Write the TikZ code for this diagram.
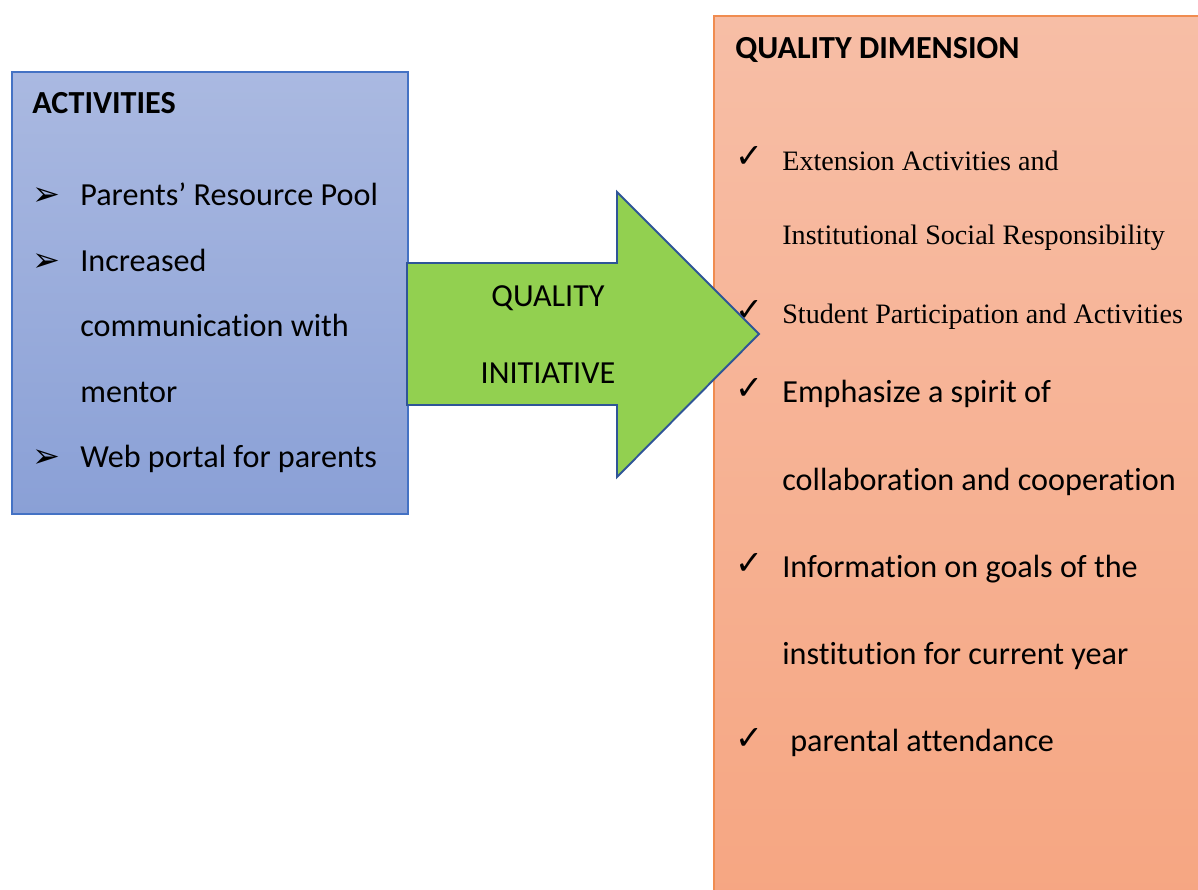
\documentclass[tikz,border=0pt]{standalone}
\usepackage{fontspec}
\setmainfont{Carlito}[Ligatures=NoCommon]
\newfontfamily\itemserif{Liberation Serif}
\newfontfamily\symfont{DejaVu Sans}
\usetikzlibrary{positioning, calc}
\definecolor{actTop}{RGB}{170,185,225}
\definecolor{actBot}{RGB}{138,160,214}
\definecolor{actLine}{RGB}{68,114,196}
\definecolor{qualTop}{RGB}{247,190,166}
\definecolor{qualBot}{RGB}{246,166,130}
\definecolor{qualLine}{RGB}{240,140,80}
\definecolor{arrowGreen}{RGB}{146,208,80}
\definecolor{arrowLine}{RGB}{47,85,151}
\tikzstyle{Head} = [anchor=base west, inner sep=0pt, font=\fontsize{18.3}{22}\selectfont\bfseries]
\tikzstyle{Item} = [anchor=base west, inner sep=0pt, font=\fontsize{18.3}{22}\selectfont]
\tikzstyle{SerifItem} = [anchor=base west, inner sep=0pt, font=\fontsize{16}{19}\itemserif]
\tikzstyle{Bullet} = [anchor=base west, inner sep=0pt, font=\fontsize{19}{22}\symfont]
\tikzstyle{Tick} = [anchor=base west, inner sep=0pt, font=\fontsize{19}{22}\symfont\bfseries]
\tikzstyle{Mid} = [anchor=base, inner sep=0pt, font=\fontsize{18.3}{22}\selectfont]

\begin{document}
\begin{tikzpicture}[x=0.02cm, y=-0.02cm]
    \useasboundingbox (0,0) rectangle (1198,890);
    \clip (0,0) rectangle (1198,890);

    % boxes
    \node [draw=qualLine, line width=0.9pt, top color=qualTop, bottom color=qualBot,
           anchor=north west, inner sep=0pt, minimum width=10cm, minimum height=17.7cm] (qual) at (713,15) {};
    \node [draw=actLine, line width=0.9pt, top color=actTop, bottom color=actBot,
           anchor=north west, inner sep=0pt, minimum width=7.92cm, minimum height=8.84cm] (act) at (11,71) {};
    \node [Tick] (t2) at (735,321) {✓};

    % arrow
    \coordinate (s1) at (407,263);
    \coordinate (h1) at (617,263);
    \coordinate (h2) at (617,192);
    \coordinate (tip) at (759,334);
    \coordinate (h3) at (617,477);
    \coordinate (h4) at (617,405);
    \coordinate (s2) at (407,405);
    \draw[arrowLine, line width=1.1pt, fill=arrowGreen, line join=miter]
        (s1) -- (h1) -- (h2) -- (tip) -- (h3) -- (h4) -- (s2) -- cycle;
    \node [Mid] (q1) at (548,306) {QUALITY};
    \node [Mid] (q2) at (548,383) {INITIATIVE};

    % activities
    \node [Head] (ah) at (32,113) {ACTIVITIES};
    \node [Bullet] (b1) at (32,205) {➢};
    \node [Item] (a1) at (80,205) {Parents’ Resource Pool};
    \node [Bullet] (b2) at (32,271) {➢};
    \node [Item] (a2) at (80,271) {Increased};
    \node [Item] (a3) at (80,336) {communication with};
    \node [Item] (a4) at (80,402) {mentor};
    \node [Bullet] (b3) at (32,467) {➢};
    \node [Item] (a5) at (80,467) {Web portal for parents};

    % quality dimension
    \node [Head] (qh) at (735,58) {QUALITY DIMENSION};
    \node [Tick] (t1) at (735,167) {✓};
    \node [SerifItem] (d1) at (782,170) {Extension Activities and};
    \node [SerifItem] (d2) at (782,244) {Institutional Social Responsibility};
    \node [SerifItem] (d3) at (782,323) {Student Participation and Activities};
    \node [Tick] (t3) at (735,399) {✓};
    \node [Item] (d4) at (782,402) {Emphasize a spirit of};
    \node [Item] (d5) at (782,490) {collaboration and cooperation};
    \node [Tick] (t4) at (735,574) {✓};
    \node [Item] (d6) at (782,577) {Information on goals of the};
    \node [Item] (d7) at (782,664) {institution for current year};
    \node [Tick] (t5) at (735,749) {✓};
    \node [Item] (d8) at (790,751) {parental attendance};
\end{tikzpicture}
\end{document}
